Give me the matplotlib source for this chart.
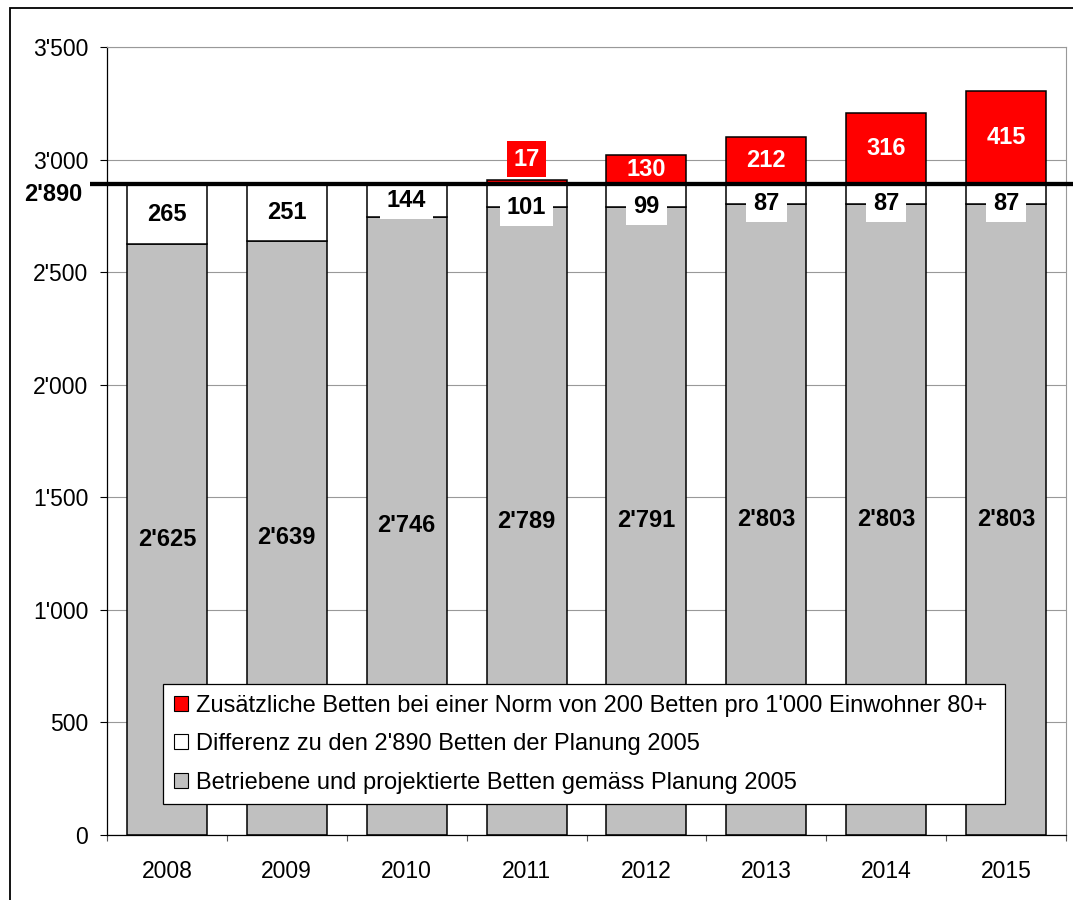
import matplotlib
matplotlib.use("Agg")
import matplotlib.pyplot as plt
import numpy as np
from matplotlib.patches import Patch, Rectangle
from matplotlib.transforms import blended_transform_factory
from matplotlib.ticker import FixedLocator, FuncFormatter

plt.rcParams["font.family"] = ["Liberation Sans", "DejaVu Sans"]

# Pflegebetten je Jahr
years = ["2008", "2009", "2010", "2011", "2012", "2013", "2014", "2015"]
betrieben = [2625, 2639, 2746, 2789, 2791, 2803, 2803, 2803]
differenz = [265, 251, 144, 101, 99, 87, 87, 87]
zusaetzlich = [0, 0, 0, 17, 130, 212, 316, 415]
planung_2005 = 2890

legend_labels = [
    "Zusätzliche Betten bei einer Norm von 200 Betten pro 1'000 Einwohner 80+",
    "Differenz zu den 2'890 Betten der Planung 2005",
    "Betriebene und projektierte Betten gemäss Planung 2005",
]
y_ticks = [0, 500, 1000, 1500, 2000, 2500, 3000, 3500]

GRAY = "#C0C0C0"
RED = "#FF0000"
FS_TICK = 16.5
FS_VAL = 17
FS_LEG = 17


def swiss(v):
    return f"{int(v):,}".replace(",", "'")


fig = plt.figure(figsize=(10.73, 9), dpi=100)
ax = fig.add_axes([0.0997, 0.0722, 0.8938, 0.8756])

x = np.arange(len(years))
w = 0.667
bottoms_white = np.array(betrieben)
bottoms_red = bottoms_white + np.array(differenz)

ax.bar(x, betrieben, w, color=GRAY, edgecolor="black", linewidth=1.1, zorder=2)
ax.bar(x, differenz, w, bottom=bottoms_white, color="white",
       edgecolor="black", linewidth=1.1, zorder=2)
red_idx = [i for i, v in enumerate(zusaetzlich) if v > 0]
ax.bar(x[red_idx], [zusaetzlich[i] for i in red_idx], w,
       bottom=bottoms_red[red_idx], color=RED, edgecolor="black",
       linewidth=1.1, zorder=2)

# value labels
for i in range(len(years)):
    ax.text(x[i], betrieben[i] / 2, swiss(betrieben[i]), ha="center",
            va="center", fontsize=FS_VAL, fontweight="bold", zorder=4)
    d = differenz[i]
    yd = bottoms_white[i] + d / 2 if d > 120 else bottoms_white[i]
    ax.text(x[i], yd, swiss(d), ha="center", va="center", fontsize=FS_VAL,
            fontweight="bold", zorder=4,
            bbox=dict(boxstyle="square,pad=0.3", fc="white", ec="none"))
    z = zusaetzlich[i]
    if z <= 0:
        continue
    top = bottoms_red[i] + z
    if z < 50:
        ax.annotate(swiss(z), (x[i], top), xytext=(0, 7),
                    textcoords="offset points", ha="center", va="bottom",
                    fontsize=FS_VAL, fontweight="bold", color="white",
                    zorder=4,
                    bbox=dict(boxstyle="square,pad=0.28", fc=RED, ec="none"))
    else:
        ax.text(x[i], bottoms_red[i] + z / 2, swiss(z), ha="center",
                va="center", fontsize=FS_VAL, fontweight="bold",
                color="white", zorder=4)

# planning reference line at 2'890
trans = blended_transform_factory(ax.transAxes, ax.transData)
ax.plot([-0.0177, 1.1], [planung_2005, planung_2005], transform=trans,
        color="black", lw=3.1, solid_capstyle="butt", clip_on=False, zorder=6)
ax.annotate(swiss(planung_2005), (-0.026, planung_2005), xycoords=trans,
            xytext=(0, -7.5), textcoords="offset points", ha="right",
            va="center", fontsize=FS_VAL, fontweight="bold")

# axes
ax.set_xlim(-0.5, len(years) - 0.5)
ax.set_ylim(0, 3500)
ax.set_yticks(y_ticks)
ax.yaxis.set_major_formatter(FuncFormatter(lambda v, p: swiss(v)))
ax.set_xticks(x)
ax.set_xticklabels(years)
ax.xaxis.set_minor_locator(FixedLocator(np.arange(-0.5, len(years), 1.0)))
ax.tick_params(axis="y", length=5, width=0.8, pad=8.5, labelsize=FS_TICK)
ax.tick_params(axis="x", which="major", length=0, pad=18, labelsize=FS_TICK)
ax.tick_params(axis="x", which="minor", length=4.3, width=0.8,
               color="#555555")
ax.yaxis.grid(True, color="#999999", linewidth=0.8)
ax.set_axisbelow(True)
for s in ("left", "bottom"):
    ax.spines[s].set_color("black")
    ax.spines[s].set_linewidth(0.9)
for s in ("top", "right"):
    ax.spines[s].set_color("#999999")
    ax.spines[s].set_linewidth(0.8)

handles = [
    Patch(facecolor=RED, edgecolor="black", linewidth=0.8),
    Patch(facecolor="white", edgecolor="black", linewidth=0.8),
    Patch(facecolor=GRAY, edgecolor="black", linewidth=0.8),
]
x0 = (163 - 107) / 959
y0 = (835 - 684) / 788
leg = ax.legend(handles, legend_labels, loc="upper left",
                bbox_to_anchor=(x0, 0, 0.878, y0), mode="expand",
                borderaxespad=0, fontsize=FS_LEG, handlelength=0.6,
                handleheight=0.6, handletextpad=0.35, borderpad=0.45,
                labelspacing=0.7, fancybox=False, framealpha=1)
leg.get_frame().set_edgecolor("black")
leg.get_frame().set_linewidth(0.9)
leg.set_zorder(7)

# outer frame
fig.patches.append(Rectangle((10 / 1073, -0.05), 1.1, 1.05 - 8 / 900,
                             transform=fig.transFigure, fill=False,
                             edgecolor="black", linewidth=1.3))

fig.savefig("out.png", dpi=100)
